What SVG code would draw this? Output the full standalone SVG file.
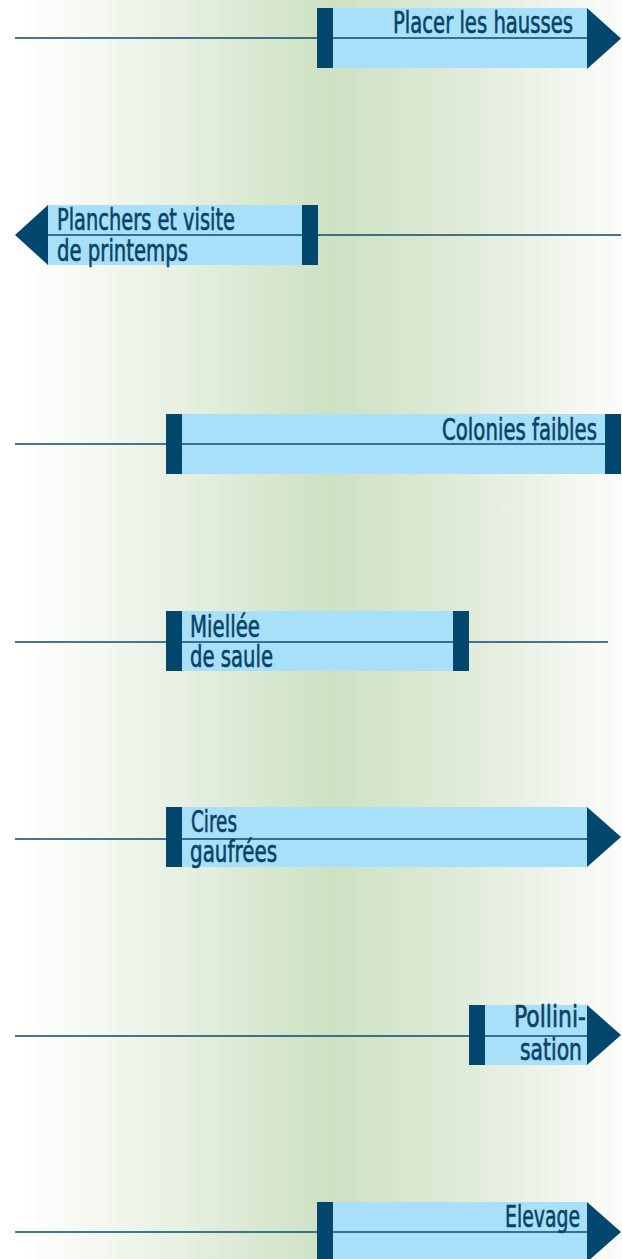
<svg xmlns="http://www.w3.org/2000/svg" width="622" height="1259" viewBox="0 0 622 1259">
<defs>
<linearGradient id="bg" x1="0" y1="0" x2="622" y2="0" gradientUnits="userSpaceOnUse">
<stop offset="0" stop-color="#ffffff"/>
<stop offset="0.035" stop-color="#ffffff"/>
<stop offset="0.3" stop-color="#e6efe0"/>
<stop offset="0.53" stop-color="#cde1c3"/>
<stop offset="0.75" stop-color="#e1ebd9"/>
<stop offset="1" stop-color="#fbfcfa"/>
</linearGradient>
<style>
.bar{fill:#a7e0f8}
.cap{fill:#03466e}
.ln{stroke:#0d4a6e;stroke-width:1.5;fill:none}
.t{font-family:"Liberation Sans Narrow","DejaVu Sans Condensed","Liberation Sans",sans-serif;font-stretch:condensed;font-size:30px;fill:#0a4266;stroke:#0a4266;stroke-width:0.6}
.r{text-anchor:end}
</style>
</defs>
<rect x="0" y="0" width="622" height="1259" fill="url(#bg)"/>
<g id="connectors">
<line class="ln" x1="15" y1="38" x2="588" y2="38"/>
<line class="ln" x1="47" y1="235" x2="621" y2="235"/>
<line class="ln" x1="15" y1="444" x2="605" y2="444"/>
<line class="ln" x1="15" y1="642" x2="608" y2="642"/>
<line class="ln" x1="15" y1="839" x2="588" y2="839"/>
<line class="ln" x1="15" y1="1036" x2="588" y2="1036"/>
<line class="ln" x1="15" y1="1232" x2="588" y2="1232"/>
</g>
<g id="n1">
<rect class="bar" x="333" y="8" width="255" height="60"/>
<line class="ln" x1="333" y1="38" x2="588" y2="38"/>
<rect class="cap" x="317" y="8" width="16" height="60"/>
<polygon class="cap" points="587,8 621,38.5 587,69"/>
<text class="t r" x="573" y="33" textLength="180" lengthAdjust="spacingAndGlyphs">Placer les hausses</text>
</g>
<g id="n2">
<rect class="bar" x="47" y="205" width="255" height="60"/>
<line class="ln" x1="47" y1="235" x2="302" y2="235"/>
<rect class="cap" x="302" y="205" width="16" height="60"/>
<polygon class="cap" points="48,205 15,235 48,265"/>
<text class="t" x="57" y="230" textLength="178" lengthAdjust="spacingAndGlyphs">Planchers et visite</text>
<text class="t" x="57" y="261" textLength="131" lengthAdjust="spacingAndGlyphs">de printemps</text>
</g>
<g id="n3">
<rect class="bar" x="182" y="414" width="423" height="60"/>
<line class="ln" x1="182" y1="444" x2="605" y2="444"/>
<rect class="cap" x="166" y="414" width="16" height="60"/>
<rect class="cap" x="605" y="414" width="16" height="60"/>
<text class="t r" x="597" y="440" textLength="155" lengthAdjust="spacingAndGlyphs">Colonies faibles</text>
</g>
<g id="n4">
<rect class="bar" x="182" y="611" width="271" height="60"/>
<line class="ln" x1="182" y1="642" x2="453" y2="642"/>
<rect class="cap" x="166" y="611" width="16" height="60"/>
<rect class="cap" x="453" y="611" width="16" height="60"/>
<text class="t" x="190" y="637" textLength="70" lengthAdjust="spacingAndGlyphs">Miellée</text>
<text class="t" x="190" y="667" textLength="83" lengthAdjust="spacingAndGlyphs">de saule</text>
</g>
<g id="n5">
<rect class="bar" x="182" y="807" width="406" height="60"/>
<line class="ln" x1="182" y1="839" x2="588" y2="839"/>
<rect class="cap" x="166" y="807" width="16" height="60"/>
<polygon class="cap" points="587,807 621,837 587,867"/>
<text class="t" x="191" y="832" textLength="46" lengthAdjust="spacingAndGlyphs">Cires</text>
<text class="t" x="190" y="862" textLength="87" lengthAdjust="spacingAndGlyphs">gaufrées</text>
</g>
<g id="n6">
<rect class="bar" x="485" y="1005" width="103" height="60"/>
<line class="ln" x1="485" y1="1036" x2="588" y2="1036"/>
<rect class="cap" x="469" y="1005" width="16" height="60"/>
<polygon class="cap" points="587,1005 621,1035 587,1065"/>
<text class="t r" x="586" y="1027" textLength="72" lengthAdjust="spacingAndGlyphs">Pollini-</text>
<text class="t r" x="582" y="1060" textLength="62" lengthAdjust="spacingAndGlyphs">sation</text>
</g>
<g id="n7">
<rect class="bar" x="333" y="1202" width="255" height="60"/>
<line class="ln" x1="333" y1="1232" x2="588" y2="1232"/>
<rect class="cap" x="317" y="1202" width="16" height="60"/>
<polygon class="cap" points="587,1202 621,1232 587,1262"/>
<text class="t r" x="580" y="1227" textLength="75" lengthAdjust="spacingAndGlyphs">Elevage</text>
</g>
</svg>
